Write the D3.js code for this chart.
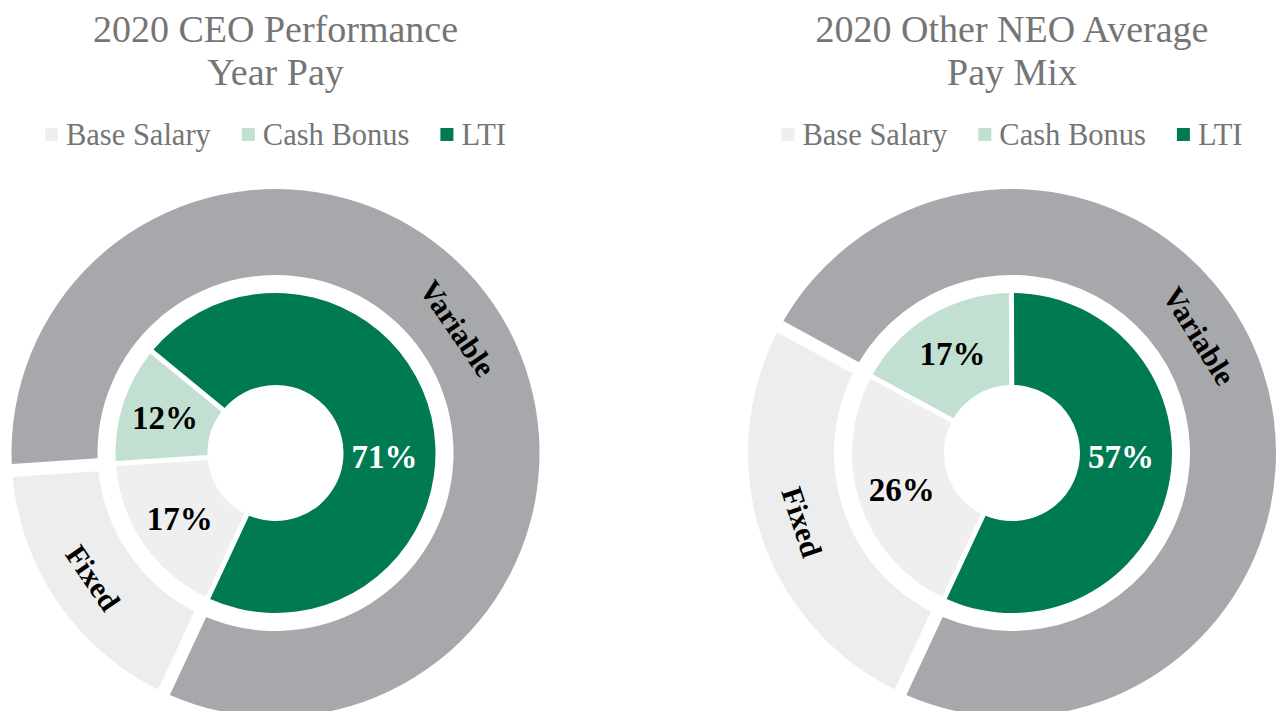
<!DOCTYPE html>
<html>
<head>
<meta charset="utf-8">
<script src="https://cdn.jsdelivr.net/npm/d3@7"></script>
<style>
  body { margin: 0; background: #fff; }
  svg { display: block; }
</style>
</head>
<body>
<div id="chart"></div>
<script>
// pay mix data
var components = ["Base Salary", "Cash Bonus", "LTI"];
var groups = ["Fixed", "Variable"];
var titles = [["2020 CEO Performance", "Year Pay"], ["2020 Other NEO Average", "Pay Mix"]];
var ceoMix = [17, 12, 71];
var neoMix = [26, 17, 57];
var ceoGroups = [17, 83];
var neoGroups = [26, 74];

var width = 1278, height = 711;
var compColors = ["#efefef", "#c2e0d1", "#007a53"];
var groupColors = ["#ededed", "#a7a8ab"];
var textGray = "#757575";
var serif = "'Liberation Serif', 'Times New Roman', serif";

var svg = d3.select("#chart").append("svg")
	.attr("width", width)
	.attr("height", height);

var startAngle = 205 * Math.PI / 180;

var pie = d3.pie()
	.sort(null)
	.value(function(d){ return d; })
	.startAngle(startAngle)
	.endAngle(startAngle + 2 * Math.PI);

var innerArc = d3.arc().innerRadius(68).outerRadius(160)
	.padRadius(100).padAngle(0.05);
var outerArc = d3.arc().innerRadius(178).outerRadius(264)
	.padRadius(100).padAngle(0.13);

var charts = [
	{cx: 275.5, cy: 453, title: titles[0], mix: ceoMix, grp: ceoGroups, varAngle: null},
	{cx: 1012, cy: 453, title: titles[1], mix: neoMix, grp: neoGroups, varAngle: 58}
];

function polar(angleDeg, r){
	var a = angleDeg * Math.PI / 180;
	return [Math.sin(a) * r, -Math.cos(a) * r];
}

function midDeg(d){
	var m = (d.startAngle + d.endAngle) / 2 * 180 / Math.PI;
	return m % 360;
}

charts.forEach(function(c){
	var g = svg.append("g").attr("transform", "translate(" + c.cx + "," + c.cy + ")");

	//title, two lines
	svg.selectAll(null).data(c.title).enter().append("text")
		.attr("x", c.cx)
		.attr("y", function(d, i){ return 42 + i * 43; })
		.attr("text-anchor", "middle")
		.style("font-family", serif)
		.style("font-size", "38px")
		.style("fill", textGray)
		.text(function(d){ return d; });

	//legend, centred on the chart
	var leg = svg.append("g");
	var xPos = 0;
	components.forEach(function(name, i){
		var item = leg.append("g").attr("transform", "translate(" + xPos + ",0)");
		item.append("rect")
			.attr("x", 0).attr("y", -7)
			.attr("width", 13).attr("height", 13)
			.attr("fill", compColors[i]);
		var t = item.append("text")
			.attr("x", 21).attr("y", 10)
			.style("font-family", serif)
			.style("font-size", "30.5px")
			.style("fill", textGray)
			.text(name);
		xPos += 21 + t.node().getComputedTextLength() + 31;
	});
	var legW = xPos - 31;
	leg.attr("transform", "translate(" + (c.cx - legW / 2) + ",135)");

	//outer ring (fixed / variable)
	var outerData = pie(c.grp);
	g.selectAll(".outer").data(outerData).enter().append("path")
		.attr("class", "outer")
		.attr("d", outerArc)
		.attr("fill", function(d, i){ return groupColors[i]; });

	g.selectAll(".outerLabel").data(outerData).enter().append("text")
		.attr("class", "outerLabel")
		.attr("transform", function(d, i){
			var ang = midDeg(d);
			if(i == 1 && c.varAngle != null) ang = c.varAngle;
			var p = polar(ang, 221);
			var rot = (ang > 90 && ang < 270) ? ang - 180 : ang;
			return "translate(" + p[0] + "," + p[1] + ") rotate(" + rot + ")";
		})
		.attr("text-anchor", "middle")
		.attr("dy", "0.35em")
		.style("font-family", serif)
		.style("font-weight", "bold")
		.style("font-size", "30px")
		.style("fill", "#000")
		.text(function(d, i){ return groups[i]; });

	//inner ring (components)
	var innerData = pie(c.mix);
	g.selectAll(".inner").data(innerData).enter().append("path")
		.attr("class", "inner")
		.attr("d", innerArc)
		.attr("fill", function(d, i){ return compColors[i]; });

	g.selectAll(".innerLabel").data(innerData).enter().append("text")
		.attr("class", "innerLabel")
		.attr("transform", function(d, i){
			var ang = midDeg(d), r = 116;
			if(i == 2){ ang = 92; r = 109; }
			var p = polar(ang, r);
			return "translate(" + p[0] + "," + p[1] + ")";
		})
		.attr("text-anchor", "middle")
		.attr("dy", "0.35em")
		.style("font-family", serif)
		.style("font-weight", "bold")
		.style("font-size", "33px")
		.style("fill", function(d, i){ return i == 2 ? "#fff" : "#000"; })
		.text(function(d){ return d.data + "%"; });
});
</script>
</body>
</html>
